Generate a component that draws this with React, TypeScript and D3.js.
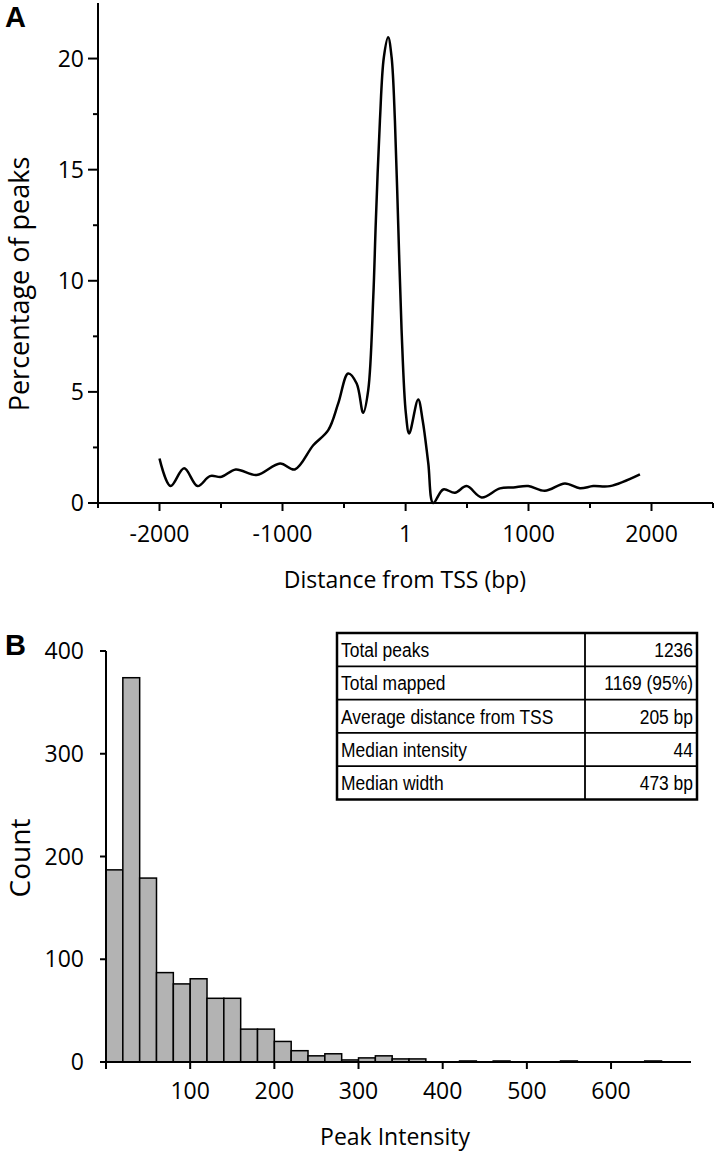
import React from "react";
import * as d3 from "d3";

// Panel A: percentage of peaks vs distance from TSS
const distX = [-2000, -1910, -1800, -1690, -1590, -1495, -1380, -1210, -1020, -900, -750, -628, -547, -466, -397, -344, -303, -262, -241, -208, -176, -141, -113, -86, -59, -32, 3, 30, 103, 140, 185, 225, 307, 402, 497, 619, 768, 876, 998, 1133, 1296, 1418, 1526, 1662, 1906];
const pctY = [2.0, 0.76, 1.56, 0.76, 1.21, 1.18, 1.51, 1.26, 1.78, 1.51, 2.6, 3.28, 4.48, 5.83, 5.38, 4.06, 5.08, 9.27, 12.7, 17.2, 20.06, 20.96, 20.06, 17.2, 12.5, 7.8, 4.03, 3.13, 4.66, 3.7, 1.8, 0, 0.61, 0.46, 0.76, 0.25, 0.66, 0.7, 0.76, 0.55, 0.88, 0.66, 0.76, 0.76, 1.29];
const aXTicks = [-2000, -1000, 1, 1000, 2000];
const aXTickLabels = ["-2000", "-1000", "1", "1000", "2000"];
const aXMinor = [-2500, -1500, -500, 500, 1500, 2500];
const aYTicks = [0, 5, 10, 15, 20];
const aYMinor = [2.5, 7.5, 12.5, 17.5];

// Panel B: histogram of peak intensity (bin width 20)
const binStarts = [0, 20, 40, 60, 80, 100, 120, 140, 160, 180, 200, 220, 240, 260, 280, 300, 320, 340, 360, 420, 460, 540, 640];
const binCounts = [187, 374, 179, 87, 76, 81, 62, 62, 32, 32, 20, 11, 6, 8, 2, 4, 6, 3, 3, 1, 1, 1, 1];
const binWidth = 20;
const bXTicks = [0, 100, 200, 300, 400, 500, 600];
const bYTicks = [0, 100, 200, 300, 400];

const tableLabels = ["Total peaks", "Total mapped", "Average distance from TSS", "Median intensity", "Median width"];
const tableValues = ["1236", "1169 (95%)", "205 bp", "44", "473 bp"];

const FONT = "'Open Sans', 'DejaVu Sans', sans-serif";
const TFONT = "'Liberation Sans', Arial, sans-serif";

export default function App() {
  // Panel A scales
  const ax = d3.scaleLinear().domain([-2500, 2500]).range([98, 713]);
  const ay = d3.scaleLinear().domain([0, 22.5]).range([503, 3]);
  const line = d3
    .line<number>()
    .x((_, i) => ax(distX[i]))
    .y((d) => ay(d))
    .curve(d3.curveCatmullRom.alpha(0.5));

  // Panel B scales
  const bx = d3.scaleLinear().domain([0, 695]).range([106, 691]);
  const by = d3.scaleLinear().domain([0, 400]).range([1062, 651]);

  const tX0 = 337, tX1 = 697, tDiv = 585, tY0 = 633, rowH = 33.3;
  const sx = 0.83;

  return (
    <svg width={717} height={1154} style={{ position: "absolute", left: 0, top: 0, background: "#fff" }}>
      {/* Panel label A */}
      <text x={5} y={27} fontFamily="'Liberation Sans', Arial, sans-serif" fontWeight="bold" fontSize={29}>A</text>

      {/* Panel A axes */}
      <line x1={ax(-2500)} x2={ax(2500)} y1={ay(0)} y2={ay(0)} stroke="#000" strokeWidth={2} />
      <line x1={98} x2={98} y1={ay(0)} y2={ay(22.5)} stroke="#000" strokeWidth={2} />
      {aXTicks.map((t, i) => (
        <g key={"ax" + t}>
          <line x1={ax(t)} x2={ax(t)} y1={ay(0)} y2={ay(0) + 8} stroke="#000" strokeWidth={2} />
          <text x={ax(t)} y={ay(0) + 39} textAnchor="middle" fontFamily={FONT} fontSize={23}>{aXTickLabels[i]}</text>
        </g>
      ))}
      {aXMinor.map((t) => (
        <line key={"axm" + t} x1={ax(t)} x2={ax(t)} y1={ay(0)} y2={ay(0) + 5} stroke="#000" strokeWidth={2} />
      ))}
      {aYTicks.map((t) => (
        <g key={"ay" + t}>
          <line x1={88} x2={98} y1={ay(t)} y2={ay(t)} stroke="#000" strokeWidth={2} />
          <text x={84} y={ay(t) + 8} textAnchor="end" fontFamily={FONT} fontSize={23}>{t}</text>
        </g>
      ))}
      {aYMinor.map((t) => (
        <line key={"aym" + t} x1={93} x2={98} y1={ay(t)} y2={ay(t)} stroke="#000" strokeWidth={2} />
      ))}
      <text x={405} y={588} textAnchor="middle" fontFamily={FONT} fontSize={23}>Distance from TSS (bp)</text>
      <text transform="translate(29,284) rotate(-90)" textAnchor="middle" fontFamily={FONT} fontSize={27}>Percentage of peaks</text>
      <path d={line(pctY) || ""} fill="none" stroke="#000" strokeWidth={2.5} strokeLinejoin="round" />

      {/* Panel label B */}
      <text x={5} y={655} fontFamily="'Liberation Sans', Arial, sans-serif" fontWeight="bold" fontSize={29}>B</text>

      {/* Histogram bars */}
      {binStarts.map((s, i) => (
        <rect key={"b" + s} x={bx(s)} y={by(binCounts[i])} width={bx(s + binWidth) - bx(s)} height={by(0) - by(binCounts[i])}
          fill="#b3b3b3" stroke="#000" strokeWidth={1.5} />
      ))}

      {/* Panel B axes */}
      <line x1={bx(0)} x2={bx(695)} y1={by(0)} y2={by(0)} stroke="#000" strokeWidth={2} />
      <line x1={bx(0)} x2={bx(0)} y1={by(0)} y2={by(400)} stroke="#000" strokeWidth={2} />
      {bXTicks.map((t) => (
        <g key={"bx" + t}>
          <line x1={bx(t)} x2={bx(t)} y1={by(0)} y2={by(0) + 7} stroke="#000" strokeWidth={2} />
          {t > 0 && (
            <text x={bx(t)} y={by(0) + 37} textAnchor="middle" fontFamily={FONT} fontSize={23}>{t}</text>
          )}
        </g>
      ))}
      {bYTicks.map((t) => (
        <g key={"by" + t}>
          <line x1={bx(0) - 6} x2={bx(0)} y1={by(t)} y2={by(t)} stroke="#000" strokeWidth={2} />
          <text x={84} y={by(t) + 8} textAnchor="end" fontFamily={FONT} fontSize={23}>{t}</text>
        </g>
      ))}
      <text x={395} y={1145} textAnchor="middle" fontFamily={FONT} fontSize={23}>Peak Intensity</text>
      <text transform="translate(30,858) rotate(-90)" textAnchor="middle" fontFamily={FONT} fontSize={28}>Count</text>

      {/* Summary table */}
      <g>
        <rect x={tX0} y={tY0} width={tX1 - tX0} height={rowH * tableLabels.length} fill="#fff" stroke="#000" strokeWidth={2.5} />
        <line x1={tDiv} x2={tDiv} y1={tY0} y2={tY0 + rowH * tableLabels.length} stroke="#000" strokeWidth={1.8} />
        {tableLabels.map((lab, i) => (
          <g key={"t" + i}>
            {i > 0 && <line x1={tX0} x2={tX1} y1={tY0 + rowH * i} y2={tY0 + rowH * i} stroke="#000" strokeWidth={1.8} />}
            <text transform={`translate(${tX0 + 4},${tY0 + rowH * i + 24}) scale(${sx},1)`} fontFamily={TFONT} fontSize={21}>{lab}</text>
            <text transform={`translate(${tX1 - 4},${tY0 + rowH * i + 24}) scale(${sx},1)`} textAnchor="end" fontFamily={TFONT} fontSize={21}>{tableValues[i]}</text>
          </g>
        ))}
      </g>
    </svg>
  );
}
